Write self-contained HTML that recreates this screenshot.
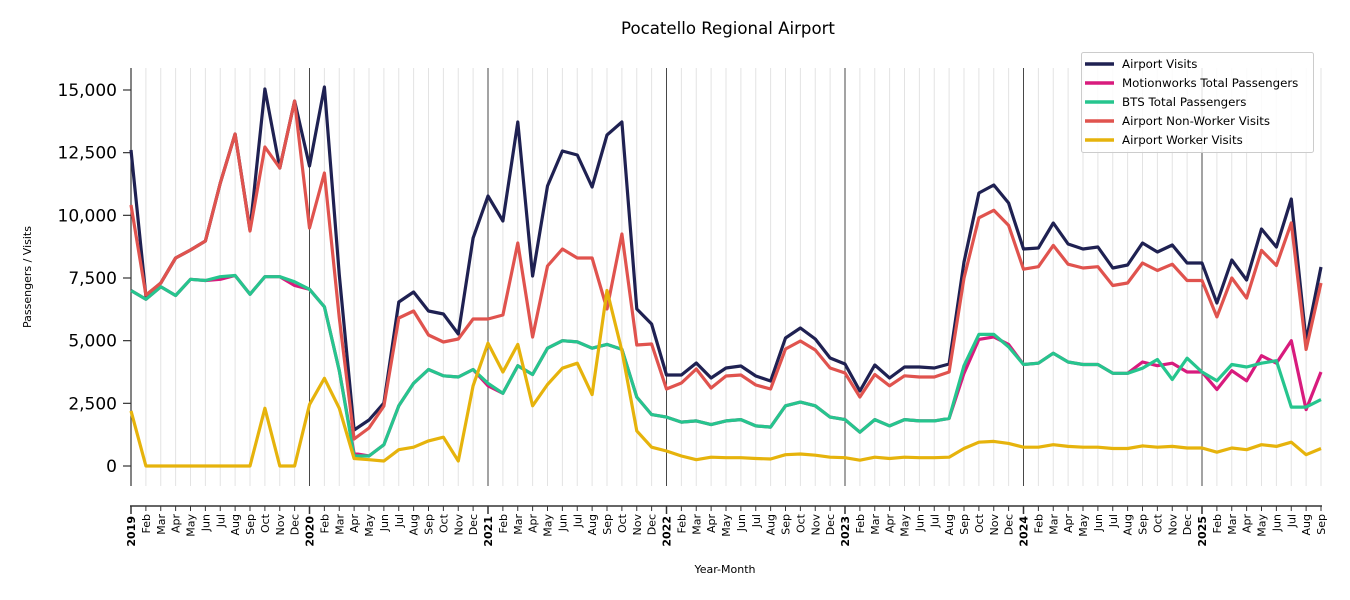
<!DOCTYPE html>
<html><head><meta charset="utf-8">
<style>
html,body{margin:0;padding:0;background:#fff;}
svg{display:block;font-family:"DejaVu Sans","Liberation Sans",sans-serif;}
</style></head>
<body>
<svg id="s" width="1350" height="600" xmlns="http://www.w3.org/2000/svg">
<text x="728" y="34" font-size="16.6" text-anchor="middle">Pocatello Regional Airport</text>
<text transform="translate(31,277) rotate(-90)" font-size="11" text-anchor="middle">Passengers / Visits</text>
<text x="725" y="573" font-size="11" text-anchor="middle">Year-Month</text>
<g id="grid"></g>
<line x1="131" y1="68" x2="131" y2="486" stroke="#333" stroke-width="1.2"/>
<line x1="130" y1="506" x2="1322" y2="506" stroke="#333" stroke-width="1.5"/>
<g id="yt" font-size="17" text-anchor="end"></g>
<g id="xt" font-size="11"></g>
<g id="lines" fill="none" stroke-width="3.2" stroke-linejoin="round"></g>
<g>
<rect x="1081.5" y="52.5" width="232" height="100" rx="2" fill="#fff" fill-opacity="0.85" stroke="#ccc"/>
<g stroke-width="3.5">
<line x1="1085" y1="64" x2="1114" y2="64" stroke="#1f2152"/>
<line x1="1085" y1="83" x2="1114" y2="83" stroke="#d81b7d"/>
<line x1="1085" y1="102" x2="1114" y2="102" stroke="#26c58e"/>
<line x1="1085" y1="121" x2="1114" y2="121" stroke="#e0534e"/>
<line x1="1085" y1="140" x2="1114" y2="140" stroke="#e6b30c"/>
</g>
<g font-size="11.8">
<text x="1122" y="68">Airport Visits</text>
<text x="1122" y="87">Motionworks Total Passengers</text>
<text x="1122" y="106">BTS Total Passengers</text>
<text x="1122" y="125">Airport Non-Worker Visits</text>
<text x="1122" y="144">Airport Worker Visits</text>
</g>
</g>
</svg>
<script>
const NS="http://www.w3.org/2000/svg";
const X0=131,DX=14.875;
const yv=v=>466-v*0.025067;
function el(p,t,a,txt){const e=document.createElementNS(NS,t);for(const k in a)e.setAttribute(k,a[k]);if(txt!=null)e.textContent=txt;p.appendChild(e);return e;}
const grid=document.getElementById('grid'),xt=document.getElementById('xt'),yt=document.getElementById('yt'),lines=document.getElementById('lines');
const mon=["","Feb","Mar","Apr","May","Jun","Jul","Aug","Sep","Oct","Nov","Dec"];
for(let i=0;i<=80;i++){const x=X0+i*DX;const yr=i%12==0;
 if(i>0) el(grid,'line',{x1:x,y1:68,x2:x,y2:486,stroke:yr?'#333':'#e3e3e3','stroke-width':yr?0.9:1});
 el(grid,'line',{x1:x,y1:506,x2:x,y2:yr?514:511,stroke:'#333','stroke-width':yr?1.5:1});
 const lab=yr?String(2019+i/12):mon[i%12];
 el(xt,'text',{transform:`translate(${x+4},${yr?516:514}) rotate(-90)`,'text-anchor':'end','font-weight':yr?'bold':'normal'},lab);
}
for(let v=0;v<=15000;v+=2500){const y=yv(v);el(yt,'line',{x1:123,y1:y,x2:131,y2:y,stroke:'#333','stroke-width':1.2});
 el(yt,'text',{x:117,y:y+6},v.toLocaleString('en-US'));}
const visitsPx=[150,296,283,258,250,241,183,134,230,89,168,101,166,87,275,430,420,403,302,292,311,314,334,238,196,221,122,276,186,151,155,187,135,122,309,324,375,375,363,378,368,366,376,381,338,328,339,358,364,391,365,378,367,367,368,364,262,193,185,203,249,248,223,244,249,247,268,265,243,252,245,263,263,303,260,280,229,247,199,341,267];
const redPx=[205,295,283,258,250,241,183,134,231,147,168,101,228,173,318,439,428,406,318,311,335,342,339,319,319,315,243,337,266,249,258,258,309,234,345,344,389,383,369,388,376,375,385,389,349,341,350,368,373,397];
const redV=[3650,3200,3600,3550,3550,3750,7500,9900,10200,9600,7850,7950,8800,8050,7900,7950,7200,7300,8100,7800,8050,7400,7400,5950,7500,6700,8600,8000,9700,4650,7300];
const redAll=redPx.concat(redV.map(yv));
const green=[7000,6650,7150,6800,7450,7400,7550,7600,6850,7550,7550,7350,7050,6350,3800,400,400,850,2400,3300,3850,3600,3550,3850,3300,2900,4000,3650,4700,5000,4950,4700,4850,4650,2750,2050,1950,1750,1800,1650,1800,1850,1600,1550,2400,2550,2400,1950,1850,1350,1850,1600,1850,1800,1800,1900,4000,5250,5250,4750,4050,4100,4500,4150,4050,4050,3700,3700,3900,4250,3450,4300,3750,3400,4050,3950,4100,4200,2350,2350,2650];
const mag=green.slice();
const mo={6:7450,11:7200,15:500,24:3200,56:3700,57:5050,58:5150,59:4850,68:4150,69:4000,70:4100,71:3750,73:3050,74:3800,75:3400,76:4400,77:4100,78:5000,79:2250,80:3750};
for(const k in mo)mag[k]=mo[k];
const yel=[2200,0,0,0,0,0,0,0,0,2300,0,0,2450,3500,2300,300,250,200,650,750,1000,1150,200,3200,4900,3750,4850,2400,3250,3900,4100,2850,7000,4600,1400,750,600,400,250,350,330,330,300,280,450,480,430,350,330,230,350,300,350,330,330,350,700,950,980,900,750,750,850,780,750,750,700,700,800,750,780,720,720,550,720,650,850,780,950,450,700];
function poly(ys,col){el(lines,'polyline',{points:ys.map((y,i)=>(X0+i*DX).toFixed(1)+','+y.toFixed(1)).join(' '),stroke:col});}
poly(visitsPx,'#1f2152');
poly(mag.map(yv),'#d81b7d');
poly(green.map(yv),'#26c58e');
poly(redAll,'#e0534e');
poly(yel.map(yv),'#e6b30c');
</script>
</body></html>
